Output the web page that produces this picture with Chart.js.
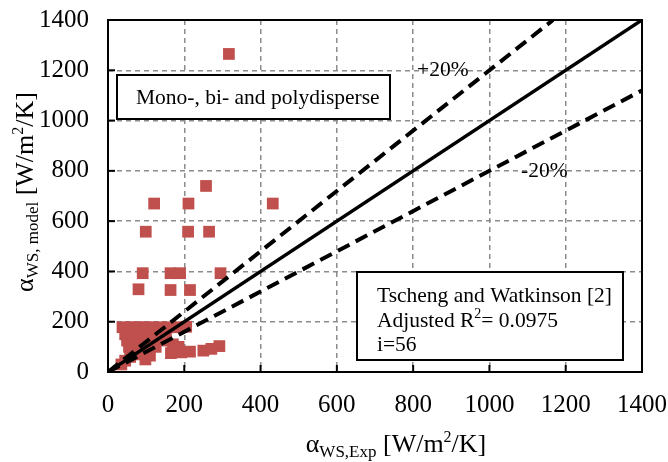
<!DOCTYPE html>
<html>
<head>
<meta charset="utf-8">
<script src="https://cdn.jsdelivr.net/npm/chart.js@4.4.0/dist/chart.umd.min.js"></script>
<style>
  html, body { margin: 0; padding: 0; background: #fff; }
  #wrap { width: 668px; height: 462px; position: relative; }
</style>
</head>
<body>
<div id="wrap"><canvas id="myChart" width="668" height="462"></canvas></div>
<script>
// measured values (x = alpha_WS,Exp, y = alpha_WS,model), W/m2/K
const expX = [317, 257, 121, 211, 432, 99, 210, 265, 91, 164, 189, 295, 80, 164, 215,
  38, 58, 78, 98, 118, 138, 158, 180, 205,
  45, 68, 90, 112, 135, 152,
  50, 72, 95, 118, 140, 185,
  55, 80, 105, 125, 170, 165,
  60, 85, 110, 192, 215,
  35, 45, 58, 70, 98,
  250, 271, 292];
const modelY = [1265, 740, 670, 670, 670, 558, 558, 558, 393, 393, 393, 393, 329, 326, 326,
  178, 178, 178, 178, 178, 178, 178, 178, 180,
  150, 150, 150, 150, 150, 150,
  125, 125, 125, 125, 125, 100,
  100, 100, 100, 100, 110, 75,
  75, 75, 65, 78, 81,
  30, 45, 60, 70, 50,
  85, 92, 103];

const perfectX = [0, 1400];
const perfectY = [0, 1400];
const plusX = [0, 1166.7];
const plusY = [0, 1400];
const minusX = [0, 1400];
const minusY = [0, 1120];

const axisTicks = [0, 200, 400, 600, 800, 1000, 1200, 1400];

const serif = '"Liberation Serif", "Times New Roman", serif';
const markerColor = '#C0504D';

function toPoints(xs, ys) {
    return xs.map((x, i) => ({ x: x, y: ys[i] }));
}

// draws text made of pieces with different size / baseline shift, centred on cx
function drawRich(ctx, parts, cx, cy) {
    let total = 0;
    parts.forEach(p => {
        ctx.font = p.size + 'px ' + serif;
        p.w = ctx.measureText(p.text).width;
        total += p.w;
    });
    let x = cx - total / 2;
    parts.forEach(p => {
        ctx.font = p.size + 'px ' + serif;
        ctx.fillText(p.text, x, cy + (p.dy || 0));
        x += p.w;
    });
}

function drawRichLeft(ctx, parts, x, y) {
    parts.forEach(p => {
        ctx.font = p.size + 'px ' + serif;
        ctx.fillText(p.text, x, y + (p.dy || 0));
        x += ctx.measureText(p.text).width;
    });
}

function fixScale(scale, size) {
    if (scale.isHorizontal()) {
        scale.height = size;
    } else {
        scale.width = size;
    }
    scale.paddingTop = 0;
    scale.paddingBottom = 0;
    scale.paddingLeft = 0;
    scale.paddingRight = 0;
}

const decorPlugin = {
    id: 'decor',
    beforeDatasetsDraw(chart) {
        const ctx = chart.ctx;
        const a = chart.chartArea;
        const xs = chart.scales.x, ys = chart.scales.y;
        ctx.save();
        // inside tick marks
        ctx.strokeStyle = '#000';
        ctx.lineWidth = 2;
        axisTicks.forEach(v => {
            const px = xs.getPixelForValue(v);
            ctx.beginPath();
            ctx.moveTo(px, a.bottom);
            ctx.lineTo(px, a.bottom - 7);
            ctx.stroke();
            const py = ys.getPixelForValue(v);
            ctx.beginPath();
            ctx.moveTo(a.left, py);
            ctx.lineTo(a.left + 7, py);
            ctx.stroke();
        });
        ctx.restore();
    },
    afterDraw(chart) {
        const ctx = chart.ctx;
        const a = chart.chartArea;
        ctx.save();
        // frame
        ctx.strokeStyle = '#000';
        ctx.lineWidth = 2;
        ctx.strokeRect(a.left, a.top, a.right - a.left, a.bottom - a.top);

        ctx.fillStyle = '#000';
        ctx.textBaseline = 'alphabetic';
        ctx.textAlign = 'left';

        // axis titles
        drawRich(ctx, [
            { text: 'α', size: 26 },
            { text: 'WS,Exp', size: 17, dy: 5 },
            { text: ' [W/m', size: 26 },
            { text: '2', size: 16, dy: -10 },
            { text: '/K]', size: 26 }
        ], 396, 452);

        ctx.save();
        ctx.translate(33, 192);
        ctx.rotate(-Math.PI / 2);
        drawRich(ctx, [
            { text: 'α', size: 26 },
            { text: 'WS, model', size: 17, dy: 5 },
            { text: ' [W/m', size: 26 },
            { text: '2', size: 16, dy: -10 },
            { text: '/K]', size: 26 }
        ], 0, 0);
        ctx.restore();

        // text boxes
        ctx.fillStyle = '#fff';
        ctx.strokeStyle = '#000';
        ctx.lineWidth = 2;
        ctx.fillRect(117, 75, 273, 44);
        ctx.strokeRect(117, 75, 273, 44);
        ctx.fillRect(357, 272, 266, 88);
        ctx.strokeRect(357, 272, 266, 88);

        ctx.fillStyle = '#000';
        ctx.font = '21.5px ' + serif;
        ctx.fillText('Mono-, bi- and polydisperse', 136, 104);
        ctx.fillText('Tscheng and Watkinson [2]', 377, 302);
        drawRichLeft(ctx, [
            { text: 'Adjusted R', size: 21.5 },
            { text: '2', size: 14, dy: -9 },
            { text: '= 0.0975', size: 21.5 }
        ], 377, 327);
        ctx.font = '21.5px ' + serif;
        ctx.fillText('i=56', 377, 351);

        ctx.fillText('+20%', 417, 76);
        ctx.fillText('-20%', 521, 177);
        ctx.restore();
    }
};

const ctx = document.getElementById('myChart').getContext('2d');

const data = {
    datasets: [
        {
            label: 'Measured',
            data: toPoints(expX, modelY),
            showLine: false,
            pointStyle: 'rect',
            pointRadius: 8.3,
            pointBackgroundColor: markerColor,
            pointBorderColor: markerColor,
            pointBorderWidth: 0,
            order: 4
        },
        {
            label: 'y = x',
            data: toPoints(perfectX, perfectY),
            showLine: true,
            borderColor: '#000',
            borderWidth: 3.5,
            pointRadius: 0,
            order: 1
        },
        {
            label: '+20%',
            data: toPoints(plusX, plusY),
            showLine: true,
            borderColor: '#000',
            borderWidth: 4,
            borderDash: [13, 7],
            pointRadius: 0,
            order: 2
        },
        {
            label: '-20%',
            data: toPoints(minusX, minusY),
            showLine: true,
            borderColor: '#000',
            borderWidth: 4,
            borderDash: [13, 7],
            pointRadius: 0,
            order: 3
        }
    ]
};

const gridStyle = {
    display: true,
    color: '#8c8c8c',
    lineWidth: 1.5,
    drawTicks: false
};

const tickFont = { family: serif, size: 25 };

const options = {
    responsive: false,
    animation: false,
    layout: { padding: { top: 20, right: 26, left: 0, bottom: 0 } },
    scales: {
        x: {
            type: 'linear',
            min: 0,
            max: 1400,
            afterBuildTicks: (scale) => { scale.ticks = axisTicks.map(v => ({ value: v })); },
            afterFit: (scale) => fixScale(scale, 90),
            grid: gridStyle,
            border: { display: false, dash: [5, 4] },
            ticks: {
                color: '#000',
                font: tickFont,
                padding: 18,
                maxRotation: 0,
                callback: (v) => String(v)
            }
        },
        y: {
            type: 'linear',
            min: 0,
            max: 1400,
            afterBuildTicks: (scale) => { scale.ticks = axisTicks.map(v => ({ value: v })); },
            afterFit: (scale) => fixScale(scale, 108),
            grid: gridStyle,
            border: { display: false, dash: [5, 4] },
            ticks: {
                color: '#000',
                font: tickFont,
                padding: 19,
                callback: (v) => String(v)
            }
        }
    },
    plugins: {
        legend: { display: false },
        tooltip: { enabled: false }
    }
};

new Chart(ctx, {
    type: 'scatter',
    data: data,
    options: options,
    plugins: [decorPlugin]
});
</script>
</body>
</html>
